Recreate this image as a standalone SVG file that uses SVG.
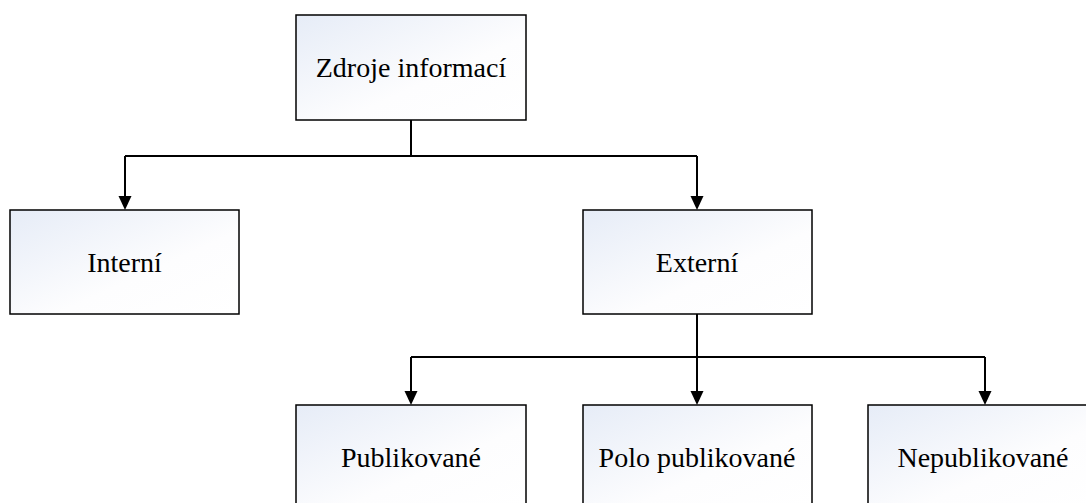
<svg xmlns="http://www.w3.org/2000/svg" width="1086" height="503" viewBox="0 0 1086 503">
<style>
.box{fill:url(#g);stroke:#000;stroke-width:1.5}
.lbl{font-family:"Liberation Serif","Times New Roman",serif;font-size:28px;fill:#000;text-anchor:middle}
.con{fill:none;stroke:#000;stroke-width:2}
</style>
<defs>
<linearGradient id="g" x1="0" y1="0" x2="1" y2="1">
<stop offset="0" stop-color="#e6ecf7"/>
<stop offset="0.6" stop-color="#fdfdfe"/>
<stop offset="1" stop-color="#ffffff"/>
</linearGradient>
<marker id="arr" markerWidth="13" markerHeight="14" refX="6.5" refY="14" orient="auto-start-reverse" markerUnits="userSpaceOnUse" viewBox="0 0 13 14">
<path d="M0,0 L13,0 L6.5,14 Z" fill="#000"/>
</marker>
</defs>
<rect width="1086" height="503" fill="#fff"/>
<g id="connectors">
<path class="con" d="M411,120 V156"/>
<path class="con" d="M125,156 H697"/>
<path class="con" d="M125,156 V196"/>
<path d="M118.5,196 L131.5,196 L125,210 Z" fill="#000"/>
<path class="con" d="M697,156 V196"/>
<path d="M690.5,196 L703.5,196 L697,210 Z" fill="#000"/>
<path class="con" d="M697,314 V391"/>
<path class="con" d="M411,357 H985"/>
<path class="con" d="M411,357 V391"/>
<path d="M404.5,391 L417.5,391 L411,405 Z" fill="#000"/>
<path d="M690.5,391 L703.5,391 L697,405 Z" fill="#000"/>
<path class="con" d="M985,357 V391"/>
<path d="M978.5,391 L991.5,391 L985,405 Z" fill="#000"/>
</g>
<g id="n-zdroje">
<rect class="box" x="296" y="15" width="230" height="105"/>
<text class="lbl" x="411" y="77">Zdroje informací</text>
</g>
<g id="n-interni">
<rect class="box" x="10" y="210" width="229" height="104"/>
<text class="lbl" x="124.5" y="272">Interní</text>
</g>
<g id="n-externi">
<rect class="box" x="583" y="210" width="229" height="104"/>
<text class="lbl" x="697" y="272">Externí</text>
</g>
<g id="n-publikovane">
<rect class="box" x="296" y="405" width="230" height="104"/>
<text class="lbl" x="411" y="467">Publikované</text>
</g>
<g id="n-polo">
<rect class="box" x="583" y="405" width="229" height="104"/>
<text class="lbl" x="697" y="467">Polo publikované</text>
</g>
<g id="n-nepublikovane">
<rect class="box" x="868" y="405" width="230" height="104"/>
<text class="lbl" x="983" y="467">Nepublikované</text>
</g>
</svg>
